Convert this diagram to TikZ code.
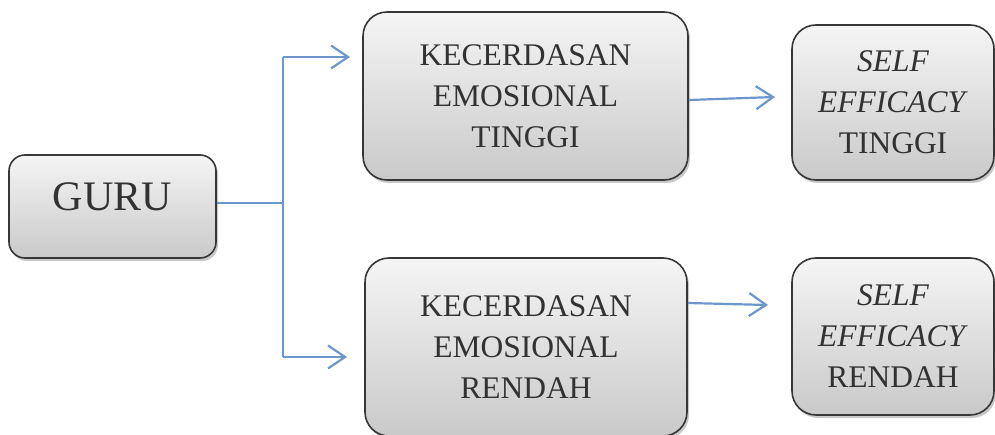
\documentclass[tikz,border=0pt]{standalone}
\RequirePackage{fontspec}
\setmainfont{Liberation Serif}
\RequirePackage{tikz}
\usetikzlibrary{arrows.meta}
\usetikzlibrary{shadows}

\definecolor{linkblue}{RGB}{108,151,205}
\definecolor{boxtext}{RGB}{50,50,50}
\definecolor{boxline}{RGB}{55,55,55}

\tikzset{
    box/.style={draw=boxline, line width=1.6pt, rounded corners=24pt,
        top color=black!4, bottom color=black!21, text=boxtext,
        align=center, inner sep=0pt,
        font=\fontsize{31.5}{41}\selectfont,
        drop shadow={shadow xshift=2pt, shadow yshift=-3pt, opacity=0.3, fill=black!70}},
    link/.style={draw=linkblue, line width=2.2pt},
    arrowlink/.style={link, -{Straight Barb[length=17pt,width=23pt]}}
}

\begin{document}
\begin{tikzpicture}[x=1pt,y=-1pt]
                \useasboundingbox (0,0) rectangle (995,435);

                \node[box, rounded corners=16pt, minimum width=207pt, minimum height=103pt,
                    text depth=20pt, font=\fontsize{42}{50}\selectfont] (guru) at (112.5,206.5) {GURU};

                \node[box, minimum width=325pt, minimum height=168pt] (kettinggi) at (525.5,96)
                    {KECERDASAN\\EMOSIONAL\\TINGGI};
                \node[box, minimum width=322pt, minimum height=178pt] (kerendah) at (526,347)
                    {KECERDASAN\\EMOSIONAL\\RENDAH};

                \node[box, minimum width=202pt, minimum height=155pt] (setinggi) at (893,102.5)
                    {\textit{SELF}\\\textit{EFFICACY}\\TINGGI};
                \node[box, minimum width=202pt, minimum height=157pt] (serendah) at (893,336.5)
                    {\textit{SELF}\\\textit{EFFICACY}\\RENDAH};

                \coordinate (split) at (283,203);
                \coordinate (splitup) at (283,57);
                \coordinate (splitdown) at (283,357);
                \coordinate (endup) at (350,57);
                \coordinate (enddown) at (347,357);
                \coordinate (endsetinggi) at (775,97);
                \coordinate (endserendah) at (768,305);

                \draw[link] (guru.east |- split) -- (split);
                \draw[link] (splitup) -- (splitdown);
                \draw[arrowlink] (splitup) -- (endup);
                \draw[arrowlink] (splitdown) -- (enddown);

                \draw[arrowlink] ([yshift=-4pt]kettinggi.east) -- (endsetinggi);
                \draw[arrowlink] (kerendah.east |- 0,303) -- (endserendah);
\end{tikzpicture}
\end{document}
